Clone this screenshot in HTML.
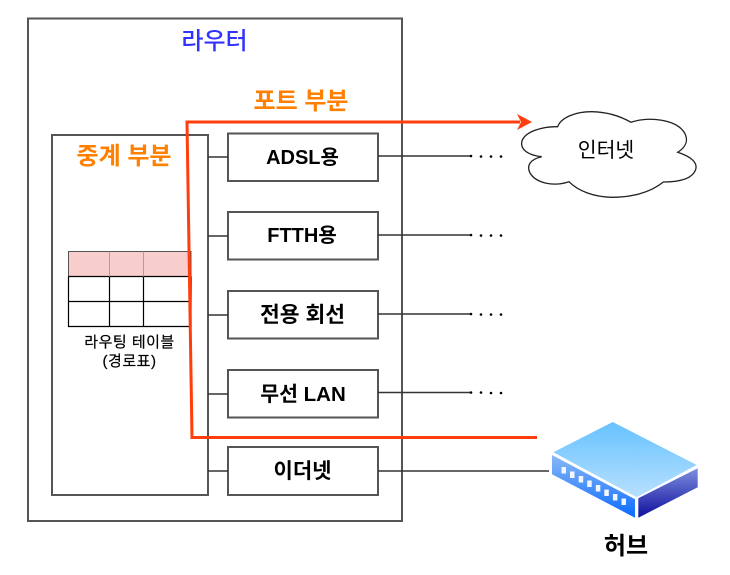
<!DOCTYPE html>
<html><head><meta charset="utf-8"><style>
html,body{margin:0;padding:0;background:#fff}
svg{display:block}
text{font-family:"Liberation Sans","Noto Sans CJK KR",sans-serif;text-anchor:middle}
.b{font-weight:bold;font-size:20px;fill:#000}
.o{font-weight:bold;font-size:24px;fill:#ff8000}
</style></head><body>
<svg width="730" height="575" viewBox="0 0 730 575" xmlns="http://www.w3.org/2000/svg">
<defs>
<linearGradient id="t" x1="0" y1="0" x2="0" y2="1"><stop offset="0" stop-color="#66c2ff"/><stop offset="1" stop-color="#b8e0ff"/></linearGradient>
<linearGradient id="l" x1="0" y1="0" x2="0" y2="1"><stop offset="0" stop-color="#8ab8f5"/><stop offset="1" stop-color="#0a6cff"/></linearGradient>
<linearGradient id="r" x1="0" y1="1" x2="0" y2="0"><stop offset="0" stop-color="#0f0f9c"/><stop offset="1" stop-color="#7e8fe0"/></linearGradient>
</defs>
<g fill="#fff" stroke="#555" stroke-width="2">
<rect x="28" y="18.5" width="374" height="502.5"/>
<rect x="52" y="135" width="156" height="360"/>
<rect x="228" y="133.5" width="150" height="47.5"/>
<rect x="228" y="212" width="150" height="47.5"/>
<rect x="228" y="291" width="150" height="47.5"/>
<rect x="228" y="370" width="150" height="47.5"/>
<rect x="228" y="447" width="150" height="48"/>
</g>
<g stroke="#333" stroke-width="1.5" fill="none">
<path d="M208 157H228M208 236H228M208 315H228M208 394H228M208 471H228"/>
<path d="M378 156H470M378 235H470M378 314H470M378 392.500H470M378 471H549"/>
</g>
<g fill="#000">
<circle cx="471" cy="156" r="1.300"/><circle cx="481" cy="156.500" r="1.300"/><circle cx="491" cy="156.500" r="1.300"/><circle cx="501" cy="156.500" r="1.300"/>
<circle cx="471" cy="235" r="1.300"/><circle cx="481" cy="235.500" r="1.300"/><circle cx="491" cy="235.500" r="1.300"/><circle cx="501" cy="235.500" r="1.300"/>
<circle cx="471" cy="314" r="1.300"/><circle cx="481" cy="314.500" r="1.300"/><circle cx="491" cy="314.500" r="1.300"/><circle cx="501" cy="314.500" r="1.300"/>
<circle cx="471" cy="392.500" r="1.300"/><circle cx="481" cy="392.500" r="1.300"/><circle cx="491" cy="393" r="1.300"/><circle cx="501" cy="393" r="1.300"/>
</g>
<rect x="68.500" y="251.500" width="122.500" height="25" fill="#f8cecc" stroke="#555" stroke-width="1"/>
<g stroke="#000" stroke-width="1.200" fill="none">
<path d="M68.500 276.500V326.500H191M68.500 276.500H191M68.500 301.500H191M109.500 276.500V326.500M143.500 276.500V326.500M191 276.500V326.500"/>
</g>
<path d="M109.500 251.500V276.500M143.500 251.500V276.500" stroke="#b09a9a" stroke-width="1"/>
<path d="M537 437.500H192L187 122H520" fill="none" stroke="#ff3d0d" stroke-width="3"/>
<path d="M532 122L517 114L521 122L517 130Z" fill="#ff3d0d"/>
<path d="M557.700 126.700C561 117 577 111.500 592 111.700C607 112 620 116 631 122.300C650 116 676 120 684 132C689 140 686 147 677.700 152.300C692 157 698 163 695.500 170C692 179 680 182 663.300 182C650 193 630 197.500 612 197.300C594 197 578 191 569 181.700C553 187 536 183 530 173C526 165 531 159 541.700 156.700C527 155 520 149 522 141C525 132 541 126.500 557.700 126.700Z" fill="#fff" stroke="#222" stroke-width="1.300"/>
<polygon points="612.700,422 696.700,465 636.700,497.300 553.300,452.300" fill="url(#t)"/>
<polygon points="552,455 635,499.300 635,517.700 552,474.300" fill="url(#l)"/>
<polygon points="638.300,498.300 697.700,468.300 697.700,487.300 638.300,517.700" fill="url(#r)"/>
<g fill="#f2f7ff">
<rect x="561.500" y="467" width="4.500" height="6.500"/><rect x="570" y="471.500" width="4.500" height="6.500"/><rect x="578.700" y="476" width="4.500" height="6.500"/><rect x="587.200" y="480.500" width="4.500" height="6.500"/><rect x="595.800" y="485" width="4.500" height="6.500"/><rect x="604.300" y="489.500" width="4.500" height="6.500"/><rect x="612.900" y="494" width="4.500" height="6.500"/><rect x="621.500" y="498.500" width="4.500" height="6.500"/>
</g>
<text x="214.500" y="49" font-size="24" font-weight="500" fill="#3333ff">라우터</text>
<text x="301" y="109" class="o">포트 부분</text>
<text x="124" y="164" class="o">중계 부분</text>
<text x="302.500" y="164" class="b">ADSL용</text>
<text x="302" y="242" class="b">FTTH용</text>
<text x="302.500" y="322" font-size="21" class="b" style="font-size:21.500px">전용 회선</text>
<text x="303" y="401" class="b" style="font-size:20.500px">무선 LAN</text>
<text x="302.500" y="478" class="b" style="font-size:21px">이더넷</text>
<text x="606" y="157" font-size="20.500" fill="#000">인터넷</text>
<text x="626" y="554" font-size="24" font-weight="bold" fill="#000">허브</text>
<text x="129.500" y="347" font-size="15" letter-spacing=".5" fill="#000" stroke="#000" stroke-width=".2">라우팅 테이블</text>
<text x="129.500" y="366" font-size="15" letter-spacing=".5" fill="#000" stroke="#000" stroke-width=".2">(경로표)</text>
</svg>
</body></html>
